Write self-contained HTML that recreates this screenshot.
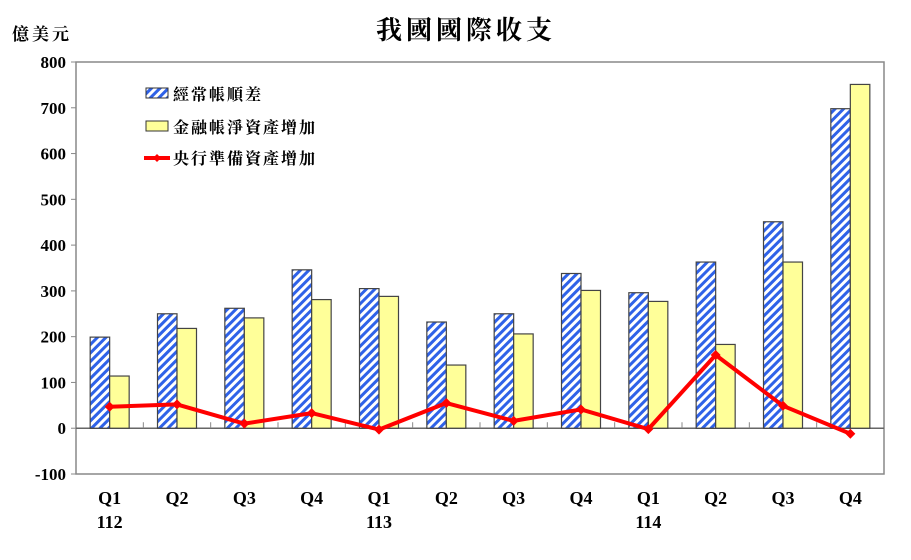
<!DOCTYPE html>
<html><head><meta charset="utf-8"><style>
body{margin:0;background:#fff;}
svg text{font-family:"Liberation Serif","Noto Serif CJK SC",serif;font-weight:bold;}
</style></head><body>
<svg width="911" height="555" viewBox="0 0 911 555">
<defs>
<pattern id="hatch" patternUnits="userSpaceOnUse" width="6" height="6" patternTransform="rotate(45)">
<rect width="6" height="6" fill="#fff"/><rect width="3" height="6" fill="#2f62e8"/>
</pattern>
</defs>
<text x="466" y="39" font-size="26" letter-spacing="4" text-anchor="middle">我國國際收支</text>
<text x="12" y="40" font-size="17" letter-spacing="3">億美元</text>
<rect x="76" y="62" width="808" height="412" fill="none" stroke="#888" stroke-width="1.5"/>
<g id="axes"></g>
<g id="bars"></g>
<g id="line"></g>
<g>
<rect x="146" y="88" width="22" height="10" fill="url(#hatch)" stroke="#333"/>
<text x="173" y="100" font-size="16" letter-spacing="2">經常帳順差</text>
<rect x="146" y="121" width="22" height="10" fill="#ffff99" stroke="#333"/>
<text x="173" y="133" font-size="16" letter-spacing="2">金融帳淨資產增加</text>
<line x1="144" y1="158" x2="170" y2="158" stroke="#f00" stroke-width="4"/>
<path d="M157 154 L161 158 L157 162 L153 158Z" fill="#f00"/>
<text x="173" y="164" font-size="16" letter-spacing="2">央行準備資產增加</text>
</g>
</svg>
<script>
const categories=["Q1","Q2","Q3","Q4","Q1","Q2","Q3","Q4","Q1","Q2","Q3","Q4"];
const years=["112","","","","113","","","","114","","",""];
const currentAccount=[199,250,262,346,305,232,250,338,296,363,451,698];
const financialAccount=[114,218,241,281,288,138,206,301,277,183,363,751];
const reserves=[47,52,10,33,-3,55,16,41,-2,160,49,-12];
const yTicks=[-100,0,100,200,300,400,500,600,700,800];
const NS="http://www.w3.org/2000/svg";
const L=76,R=884,T=62,B=474,yMin=-100,yMax=800;
const y=v=>B-(v-yMin)/(yMax-yMin)*(B-T);
const gw=(R-L)/categories.length;
const xc=i=>L+gw*(i+0.5);
function mk(tag,attrs,parent){const e=document.createElementNS(NS,tag);for(const k in attrs)e.setAttribute(k,attrs[k]);document.getElementById(parent).appendChild(e);return e;}
yTicks.forEach(t=>{
 const ln=mk('line',{x1:L-5,x2:L,y1:y(t),y2:y(t),stroke:'#888'},'axes');
 
 
 const tx=mk('text',{x:L-10,y:y(t)+6,'font-size':17,'text-anchor':'end'},'axes');
 tx.textContent=t;
 
 
});
const z=mk('line',{x1:L,x2:R,y1:y(0),y2:y(0),stroke:'#666','stroke-width':1.5},'axes');


categories.forEach((c,i)=>{
 if(i>0){const tk=mk('line',{x1:L+gw*i,x2:L+gw*i,y1:y(0)-6,y2:y(0),stroke:'#888'},'axes');
 
 }
 const tx=mk('text',{x:xc(i),y:504,'font-size':18,'text-anchor':'middle'},'axes');
 tx.textContent=c;
 
 
 if(years[i]){const yt=mk('text',{x:xc(i),y:528,'font-size':18,'text-anchor':'middle'},'axes');
 yt.textContent=years[i];
 
 }
 const bw=19.5;
 const v1=currentAccount[i],v2=financialAccount[i];
 const b1=mk('rect',{x:xc(i)-bw,y:Math.min(y(v1),y(0)),width:bw,height:Math.abs(y(v1)-y(0)),fill:'url(#hatch)',stroke:'#444','stroke-width':1.2},'bars');
 
 
 const b2=mk('rect',{x:xc(i),y:Math.min(y(v2),y(0)),width:bw,height:Math.abs(y(v2)-y(0)),fill:'#ffff99',stroke:'#444','stroke-width':1.2},'bars');
 
 
});
const pts=reserves.map((v,i)=>xc(i)+','+y(v)).join(' ');
const pl=mk('polyline',{points:pts,fill:'none',stroke:'#f00','stroke-width':4,'stroke-linejoin':'round'},'line');


reserves.forEach((v,i)=>{
 const m=mk('path',{d:`M${xc(i)} ${y(v)-5} L${xc(i)+5} ${y(v)} L${xc(i)} ${y(v)+5} L${xc(i)-5} ${y(v)}Z`,fill:'#f00'},'line');
 
 
});
</script>
</body></html>
